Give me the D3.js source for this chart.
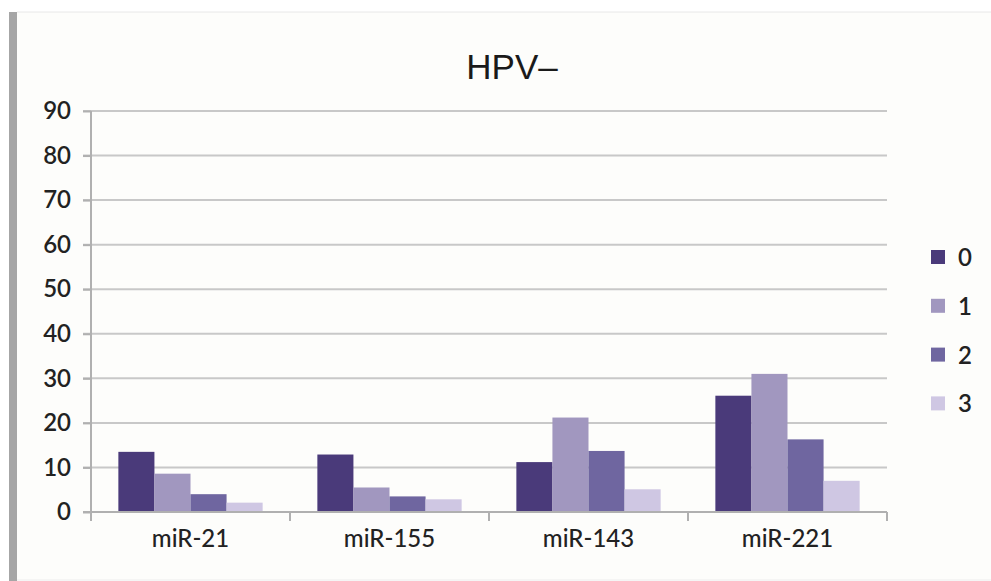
<!DOCTYPE html>
<html>
<head>
<meta charset="utf-8">
<script src="https://cdn.jsdelivr.net/npm/d3@7"></script>
<style>
  body { margin: 0; background: #ffffff; }
  svg { display: block; }
</style>
</head>
<body>
<div id="chart"></div>
<script>

var categories = ["miR-21", "miR-155", "miR-143", "miR-221"];
var seriesNames = ["0", "1", "2", "3"];
var series0 = [13.5, 12.9, 11.2, 26.1];
var series1 = [8.6, 5.5, 21.2, 31.0];
var series2 = [4.0, 3.5, 13.7, 16.3];
var series3 = [2.1, 2.85, 5.1, 7.0];
var yTicks = [0, 10, 20, 30, 40, 50, 60, 70, 80, 90];
var colors = ["#4a3a7a", "#a197bf", "#6f66a0", "#cfc7e3"];

var allSeries = [series0, series1, series2, series3];

var W = 991, H = 581;
var margin = { left: 91, right: 104, top: 111, bottom: 69 };
var width = W - margin.left - margin.right;
var height = H - margin.top - margin.bottom;

var svg = d3.select("#chart")
    .append("svg")
    .attr("width", W)
    .attr("height", H);

// frame: off-white panel, grey left bar, faint top/bottom lines
svg.append("rect")
    .attr("x", 9).attr("y", 12)
    .attr("width", W - 9).attr("height", 568)
    .attr("fill", "#fdfdfb");
svg.append("line")
    .attr("x1", 17).attr("x2", W).attr("y1", 12).attr("y2", 12)
    .style("stroke", "#e8e8e8").style("stroke-width", 1);
svg.append("line")
    .attr("x1", 17).attr("x2", W).attr("y1", 580).attr("y2", 580)
    .style("stroke", "#ececec").style("stroke-width", 1);
svg.append("rect")
    .attr("x", 9).attr("y", 12)
    .attr("width", 8).attr("height", H - 12)
    .attr("fill", "#a6a6a6");

// title
svg.append("text")
    .attr("x", 512).attr("y", 79)
    .attr("text-anchor", "middle")
    .style("font-family", "'Liberation Sans', Arial, sans-serif")
    .style("font-size", "35px")
    .style("fill", "#1a1a1a")
    .text("HPV\u2013");

var g = svg.append("g")
    .attr("transform", "translate(" + margin.left + "," + margin.top + ")");

var y = d3.scaleLinear()
    .domain([0, 90])
    .range([height, 0]);

var x0 = d3.scaleBand()
    .domain(categories)
    .range([0, width])
    .paddingInner(0.275)
    .paddingOuter(0.1375);

var x1 = d3.scaleBand()
    .domain(seriesNames)
    .range([0, x0.bandwidth()]);

// gridlines
g.append("g")
    .selectAll("line")
    .data(yTicks.filter(function (d) { return d > 0; }))
    .enter()
    .append("line")
    .attr("x1", -8).attr("x2", width)
    .attr("y1", function (d) { return y(d); })
    .attr("y2", function (d) { return y(d); })
    .style("stroke", "#c8c8c8")
    .style("stroke-width", 2);

// bars
categories.forEach(function (cat, ci) {
    allSeries.forEach(function (s, si) {
        g.append("rect")
            .attr("x", x0(cat) + x1(seriesNames[si]))
            .attr("y", y(s[ci]))
            .attr("width", x1.bandwidth())
            .attr("height", height - y(s[ci]))
            .attr("fill", colors[si]);
    });
});

// y axis
var yaxis = g.append("g")
    .call(d3.axisLeft(y).tickValues(yTicks).tickSize(8).tickPadding(12));
yaxis.selectAll("line").style("stroke", "#b0b0b0").style("stroke-width", 2);
yaxis.select("path").style("stroke", "#b0b0b0").style("stroke-width", 2)
    .attr("d", "M0," + height + "V0");
yaxis.selectAll("text")
    .style("font-family", "Lato, 'Open Sans', sans-serif")
    .style("font-size", "24px")
    .style("font-weight", "600")
    .style("fill", "#222");

// x axis: ticks at category boundaries
var bounds = [0];
categories.forEach(function (c) { bounds.push(x0(c) + x0.bandwidth() + x0.step() * 0.1375); });
var xaxis = g.append("g")
    .attr("transform", "translate(0," + height + ")");
xaxis.append("line")
    .attr("x1", -8).attr("x2", width)
    .style("stroke", "#b0b0b0").style("stroke-width", 2);
xaxis.selectAll(".tk")
    .data(bounds)
    .enter()
    .append("line")
    .attr("x1", function (d) { return d; })
    .attr("x2", function (d) { return d; })
    .attr("y1", 0).attr("y2", 9)
    .style("stroke", "#b0b0b0").style("stroke-width", 2);
xaxis.selectAll(".lbl")
    .data(categories)
    .enter()
    .append("text")
    .attr("x", function (d) { return x0(d) + x0.bandwidth() / 2; })
    .attr("y", 35)
    .attr("text-anchor", "middle")
    .style("font-family", "Lato, 'Open Sans', sans-serif")
    .style("font-size", "24px")
    .style("font-weight", "500")
    .style("fill", "#222")
    .text(function (d) { return d; });

// legend
var legend = svg.selectAll(".legend")
    .data(seriesNames)
    .enter()
    .append("g")
    .attr("class", "legend")
    .attr("transform", function (d, i) {
        return "translate(931," + (257 + i * 48.8) + ")";
    });
legend.append("rect")
    .attr("x", 0).attr("y", -7)
    .attr("width", 14).attr("height", 14)
    .style("fill", function (d, i) { return colors[i]; });
legend.append("text")
    .attr("x", 27).attr("y", 9)
    .style("font-family", "Lato, 'Open Sans', sans-serif")
    .style("font-size", "24px")
    .style("font-weight", "600")
    .style("fill", "#222")
    .text(function (d) { return d; });

</script>
</body>
</html>
